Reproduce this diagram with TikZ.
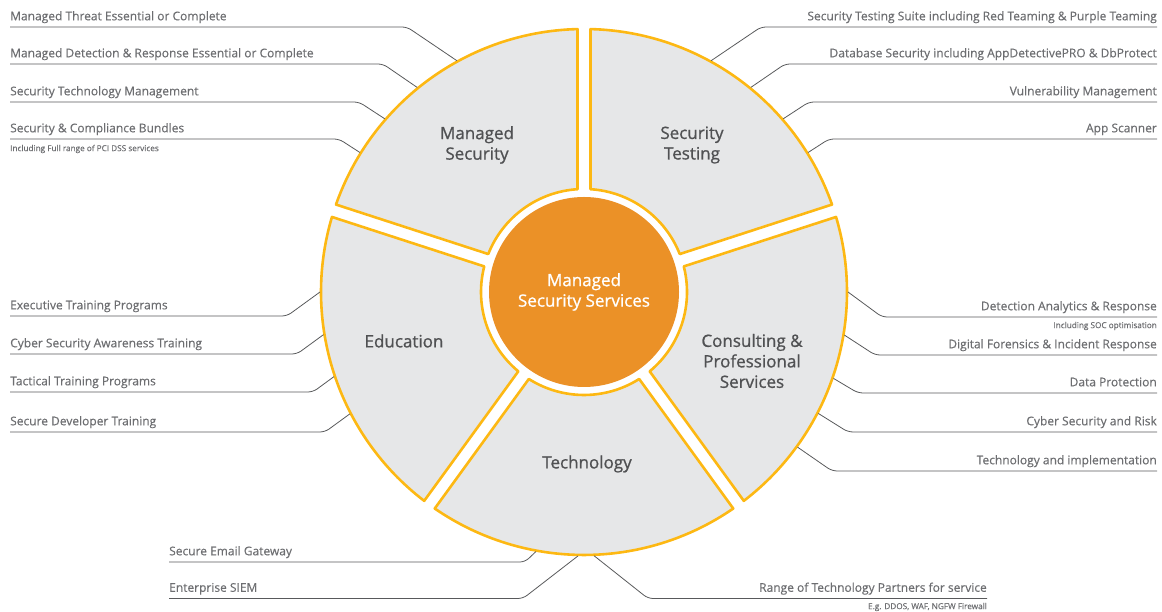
\documentclass[tikz,border=0pt]{standalone}
\usepackage{fontspec}
\setmainfont{Open Sans}
\newfontfamily\titlefont[FakeBold=0.9]{Open Sans}
\newfontfamily\itemfont[FakeBold=0.35]{Open Sans}
\usepackage{tikz}
\usetikzlibrary{calc}
\definecolor{ringcolor}{RGB}{253,184,19}
\definecolor{corecolor}{RGB}{235,145,39}
\definecolor{wedgecolor}{RGB}{230,231,232}
\definecolor{labelgray}{RGB}{109,110,113}
\definecolor{titlegray}{RGB}{80,81,83}
\definecolor{linegray}{RGB}{88,89,91}

\begin{document}
\begin{tikzpicture}[x=1pt, y=1pt,
    wedge/.style={fill=wedgecolor, draw=ringcolor, line width=2.6pt, line join=round},
    title/.style={text=titlegray, font=\titlefont\fontsize{17}{20.5}\selectfont, align=center},
    item/.style={text=labelgray, font=\itemfont\fontsize{12}{14}\selectfont, inner xsep=0pt, inner ysep=4pt, text height=8.5pt, text depth=2.5pt},
    note/.style={text=labelgray, font=\itemfont\fontsize{8.2}{9}\selectfont, inner sep=0pt},
    callout/.style={draw=linegray, line width=0.8pt, rounded corners=5pt}]
    \useasboundingbox (0,0) rectangle (1162,612);
    \coordinate (c) at (584,320);

    % Ring of five wedges
    \foreach \a/\b in {90/162, 18/90, -54/18, -126/-54, 162/234} {
        \draw[wedge] ($(c)+(\a+1.42:263)$) arc[start angle=\a+1.42, end angle=\b-1.42, radius=263]
            -- ($(c)+(\b-3.62:103)$) arc[start angle=\b-3.62, end angle=\a+3.62, radius=103] -- cycle;
    }

    % Centre
    \node[circle, fill=corecolor, minimum size=190pt, inner sep=0pt, text=white,
        font=\titlefont\fontsize{17}{20.5}\selectfont, align=center] (core) at (c) {Managed\\Security Services};

    \node[title] (managed) at (477,467) {Managed\\Security};
    \node[title] (testing) at (692,467) {Security\\Testing};
    \node[title] (consult) at (752,251) {Consulting \&\\Professional\\Services};
    \node[title] (tech) at (587,148) {Technology};
    \node[title] (edu) at (404,271) {Education};

    % Managed Security
    \foreach \n/\y/\bx/\ang/\txt in {1/585/407/118.8/{Managed Threat Essential or Complete},
        2/548/383/129.2/{Managed Detection \& Response Essential or Complete},
        3/510/359/139.0/{Security Technology Management},
        4/473/339/148.1/{Security \& Compliance Bundles}} {
        \node[item, anchor=south west] (ms\n) at (10,\y) {\txt};
        \coordinate (ms\n e) at ($(c)+(\ang:264)$);
        \draw[callout] (ms\n.south west) -- (\bx,\y) -- (ms\n e);
    }
    \node[note, anchor=west] (msnote) at (10,463) {Including Full range of PCI DSS services};

    % Security Testing
    \foreach \n/\y/\bx/\ang/\txt in {1/585/761/61.2/{Security Testing Suite including Red Teaming \& Purple Teaming},
        2/548/785/50.8/{Database Security including AppDetectivePRO \& DbProtect},
        3/510/809/41.0/{Vulnerability Management},
        4/473/829/31.9/{App Scanner}} {
        \node[item, anchor=south east] (st\n) at (1157,\y) {\txt};
        \coordinate (st\n e) at ($(c)+(\ang:264)$);
        \draw[callout] (st\n.south east) -- (\bx,\y) -- (st\n e);
    }

    % Education
    \foreach \n/\y/\bx/\ang/\txt in {1/296/287/180/{Executive Training Programs},
        2/258/297/189.3/{Cyber Security Awareness Training},
        3/220/313/198.7/{Tactical Training Programs},
        4/180/325/207.5/{Secure Developer Training}} {
        \node[item, anchor=south west] (ed\n) at (10,\y) {\txt};
        \coordinate (ed\n e) at ($(c)+(\ang:264)$);
        \draw[callout] (ed\n.south west) -- (\bx,\y) -- (ed\n e);
    }

    % Consulting & Professional Services
    \foreach \n/\y/\bx/\ang/\txt in {1/295/882/0/{Detection Analytics \& Response},
        2/257/875/-9.4/{Digital Forensics \& Incident Response},
        3/219/858/-19.1/{Data Protection},
        4/180/848/-27.4/{Cyber Security and Risk},
        5/141/832/-36.0/{Technology and implementation}} {
        \node[item, anchor=south east] (cp\n) at (1157,\y) {\txt};
        \coordinate (cp\n e) at ($(c)+(\ang:264)$);
        \draw[callout] (cp\n.south east) -- (\bx,\y) -- (cp\n e);
    }
    \node[note, anchor=east] (cpnote) at (1157,286) {Including SOC optimisation};

    % Technology
    \node[item, anchor=south west] (te1) at (169,50) {Secure Email Gateway};
    \node[item, anchor=south west] (te2) at (169,13.5) {Enterprise SIEM};
    \node[item, anchor=south east] (te3) at (987,13.5) {Range of Technology Partners for service};
    \coordinate (te1e) at ($(c)+(-100.5:264)$);
    \coordinate (te2e) at ($(c)+(-91.3:264)$);
    \coordinate (te3e) at ($(c)+(-87.8:264)$);
    \draw[callout] (te1.south west) -- (525,50) -- (te1e);
    \draw[callout] (te2.south west) -- (523,13.5) -- (te2e);
    \draw[callout] (te3.south east) -- (648,13.5) -- (te3e);
    \node[note, anchor=east] (tenote) at (987,5) {E.g. DDOS, WAF, NGFW Firewall};
\end{tikzpicture}
\end{document}
